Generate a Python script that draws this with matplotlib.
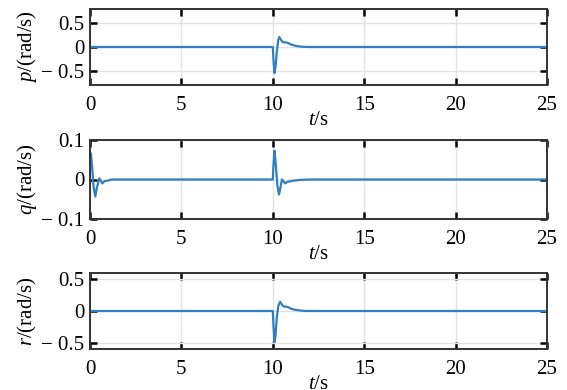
import matplotlib
matplotlib.use("Agg")
import matplotlib.pyplot as plt

plt.rcParams["font.family"] = ["Liberation Serif", "DejaVu Serif"]
plt.rcParams["mathtext.fontset"] = "custom"
plt.rcParams["mathtext.rm"] = "Liberation Serif"
plt.rcParams["mathtext.it"] = "Liberation Serif:italic"
plt.rcParams["font.size"] = 15

# roll rate p
t_p = [0, 10.0, 10.04, 10.09, 10.15, 10.22, 10.3, 10.36, 10.45, 10.55, 10.65,
       10.8, 10.95, 11.1, 11.3, 11.6, 12.0, 25]
p = [0, 0, -0.3, -0.55, -0.42, -0.1, 0.15, 0.21, 0.15, 0.1, 0.1,
     0.09, 0.06, 0.04, 0.02, 0.005, 0, 0]

# pitch rate q
t_q = [0, 0.05, 0.12, 0.2, 0.29, 0.38, 0.51, 0.6, 0.67, 0.8, 0.95, 1.2, 10.0,
       10.04, 10.09, 10.16, 10.25, 10.34, 10.42, 10.5, 10.58, 10.67, 10.8,
       10.9, 11.1, 11.5, 12.0, 25]
q = [0.06, 0.066, 0.03, -0.02, -0.043, -0.02, 0.003, -0.004, -0.01, -0.004,
     -0.003, 0, 0, 0.04, 0.073, 0.04, -0.015, -0.038, -0.02, 0.0, -0.004,
     -0.01, -0.006, -0.005, -0.003, -0.001, 0, 0]

# yaw rate r
t_r = [0, 10.0, 10.04, 10.09, 10.15, 10.22, 10.3, 10.4, 10.5, 10.6, 10.7,
       10.85, 11.0, 11.2, 11.5, 11.8, 25]
r = [0, 0, -0.25, -0.49, -0.38, -0.1, 0.08, 0.145, 0.1, 0.07, 0.07,
     0.06, 0.035, 0.02, 0.008, 0, 0]

xticks = [0, 5, 10, 15, 20, 25]
ylabels = [r"$p$/(rad/s)", r"$q$/(rad/s)", r"$r$/(rad/s)"]
ylims = [(-0.8, 0.8), (-0.1, 0.1), (-0.6, 0.6)]
yticks = [[-0.5, 0, 0.5], [-0.1, 0, 0.1], [-0.5, 0, 0.5]]
yticklabels = [["\u2212 0.5", "0", "0.5"], ["\u2212 0.1", "0", "0.1"],
               ["\u2212 0.5", "0", "0.5"]]

fig = plt.figure(figsize=(5.67, 3.90), dpi=100)
boxes = [(90, 9, 85), (90, 140, 219), (90, 273, 349)]
series = [(t_p, p), (t_q, q), (t_r, r)]

for i, (left, top, bottom) in enumerate(boxes):
    ax = fig.add_axes([left / 567, 1 - bottom / 390, 457 / 567, (bottom - top) / 390])
    t, y = series[i]
    ax.plot(t, y, color="#2f7fc1", lw=1.6)
    ax.set_xlim(0, 25)
    ax.set_ylim(*ylims[i])
    ax.set_xticks(xticks)
    ax.set_yticks(yticks[i])
    ax.set_yticklabels(yticklabels[i])
    ax.grid(True, color="#e3e3e3", lw=1)
    ax.set_axisbelow(True)
    ax.tick_params(direction="in", top=True, right=True, length=5, width=1.8,
                   color="black")
    ax.tick_params(axis="x", pad=8)
    ax.tick_params(axis="y", pad=4)
    for s in ax.spines.values():
        s.set_color("#333333")
        s.set_linewidth(1.4)
    ax.set_xlabel(r"$t$/s", labelpad=-3)
    ax.set_ylabel(ylabels[i], labelpad=2)

fig.savefig("out.png", dpi=100)
